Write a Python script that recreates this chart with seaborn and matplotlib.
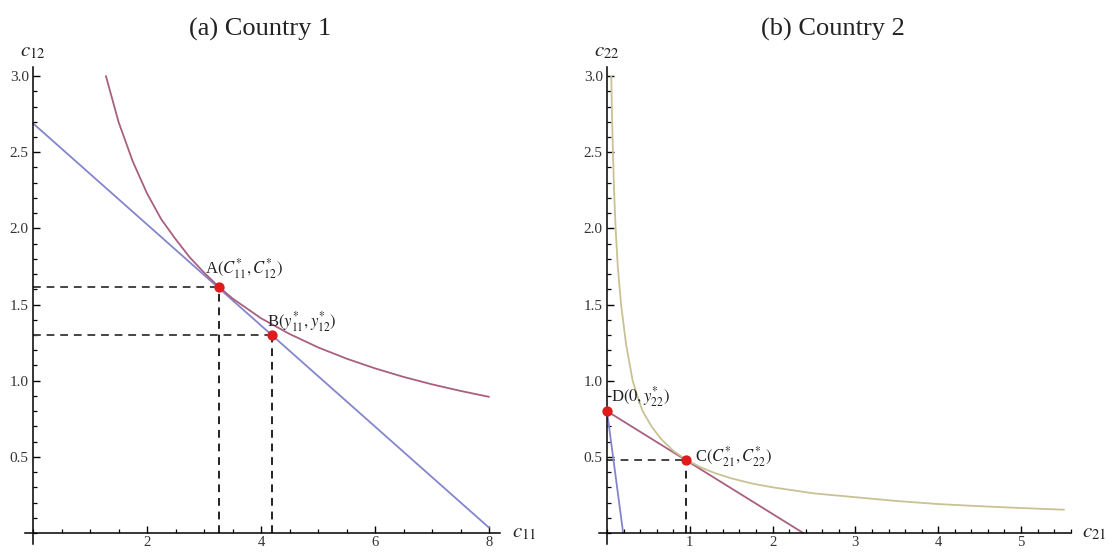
import numpy as np
import pandas as pd
import matplotlib
matplotlib.use("Agg")
import matplotlib.pyplot as plt
from matplotlib.ticker import MultipleLocator, FixedLocator
import seaborn as sns

# ---------------- data ----------------
# Panel (a) Country 1
p1_budget_x = [0.0, 8.0]
p1_budget_y = [2.69, 0.035]
p1_indiff_x = [1.28, 1.5, 1.75, 2.0, 2.25, 2.5, 2.75, 3.0, 3.25, 3.5, 4.0, 4.5,
               5.0, 5.5, 6.0, 6.5, 7.0, 7.5, 8.0]
p1_indiff_y = [3.0, 2.70, 2.44, 2.23, 2.06, 1.93, 1.81, 1.71, 1.62, 1.54, 1.41, 1.307,
               1.219, 1.145, 1.081, 1.025, 0.976, 0.933, 0.894]
p1_point_x = [3.26, 4.2]
p1_point_y = [1.615, 1.30]
p1_point_labels = [r"A$(C^{*}_{11},C^{*}_{12})$", r"B$(y^{*}_{11},y^{*}_{12})$"]

# Panel (b) Country 2
p2_budget_x = [0.0, 2.37]
p2_budget_y = [0.80, 0.0]
p2_steep_x = [0.0, 0.195]
p2_steep_y = [0.80, 0.0]
p2_indiff_x = [0.052, 0.06, 0.072, 0.085, 0.104, 0.13, 0.17, 0.23, 0.31, 0.37, 0.43,
               0.54, 0.65, 0.8, 0.96, 1.15, 1.3, 1.5, 1.75, 2.0, 2.5, 3.0, 3.5,
               4.0, 4.5, 5.0, 5.52]
p2_indiff_y = [3.0, 2.75, 2.5, 2.25, 2.0, 1.75, 1.5, 1.24, 1.0, 0.895, 0.80,
               0.698, 0.619, 0.54, 0.48, 0.427, 0.394, 0.359, 0.325, 0.30, 0.26, 0.235, 0.21,
               0.19, 0.176, 0.164, 0.153]
p2_point_x = [0.0, 0.96]
p2_point_y = [0.80, 0.48]
p2_point_labels = [r"D$(0,y^{*}_{22})$", r"C$(C^{*}_{21},C^{*}_{22})$"]

titles = ["(a) Country 1", "(b) Country 2"]
xlabels = [r"$c_{11}$", r"$c_{21}$"]
ylabels = [r"$c_{12}$", r"$c_{22}$"]
p1_xticks = [2, 4, 6, 8]
p2_xticks = [1, 2, 3, 4, 5]
yticks = [0.5, 1.0, 1.5, 2.0, 2.5, 3.0]

# ---------------- style ----------------
sns.set_theme(style="white")
plt.rcParams["font.family"] = ["Liberation Serif", "DejaVu Serif"]
plt.rcParams["mathtext.fontset"] = "stix"

BLUE = "#8585cc"
PURPLE = "#a8607e"
OLIVE = "#c9c294"
RED = "#e01b1b"
TXT = "#222222"

W, H = 1112, 554
fig = plt.figure(figsize=(W / 100, H / 100), dpi=100)

YLIM = (-0.07, 3.06)
Y0_PX, Y_PER = 533, 152.3


def px_axes(x_axis_px, x_per_unit, xlim):
    left = x_axis_px + xlim[0] * x_per_unit
    right = x_axis_px + xlim[1] * x_per_unit
    bottom = Y0_PX - YLIM[0] * Y_PER
    top = Y0_PX - YLIM[1] * Y_PER
    ax = fig.add_axes([left / W, (H - bottom) / H, (right - left) / W, (bottom - top) / H])
    ax.set_xlim(*xlim)
    return ax


ax1 = px_axes(33, 57.0, (-0.14, 8.2))
ax2 = px_axes(607, 82.8, (-0.1, 5.6))


def style_axes(ax, xticks, xminor, xl, yl):
    ax.set_ylim(*YLIM)
    for s in ["top", "right"]:
        ax.spines[s].set_visible(False)
    for s in ["left", "bottom"]:
        ax.spines[s].set_position(("data", 0))
        ax.spines[s].set_color("black")
        ax.spines[s].set_linewidth(1.1)
    ax.xaxis.set_major_locator(FixedLocator(xticks))
    ax.xaxis.set_minor_locator(MultipleLocator(xminor))
    ax.yaxis.set_major_locator(FixedLocator(yticks))
    ax.yaxis.set_minor_locator(MultipleLocator(0.1))
    ax.set_xticklabels([f"{t:g}" for t in xticks])
    ax.set_yticklabels([f"{t:.1f}" for t in yticks])
    ax.tick_params(which="major", direction="in", length=4.8, width=1.0, color="black",
                   labelsize=11, labelcolor="#333333")
    ax.tick_params(which="minor", direction="in", length=2.8, width=0.9, color="black")
    ax.tick_params(axis="x", which="major", pad=2.5, labelsize=10.5)
    ax.tick_params(axis="y", which="major", pad=3)
    ax.tick_params(axis="x", which="both", bottom=True, top=False)
    ax.tick_params(axis="y", which="both", left=True, right=False)
    ax.set_xlabel("")
    ax.set_ylabel("")
    ax.annotate(xl, xy=(1, 0), xycoords=("axes fraction", "data"), xytext=(8, 0),
                textcoords="offset points", ha="left", va="center", fontsize=15, color=TXT)
    ax.annotate(yl, xy=(0, 1), xycoords=("data", "axes fraction"), xytext=(0, 4),
                textcoords="offset points", ha="center", va="bottom", fontsize=15, color=TXT)
    ax.patch.set_alpha(0)


def draw_panel(ax, lines, px, py, labels, offsets, has_dash):
    for (lx, ly, col) in lines:
        df = pd.DataFrame({"x": lx, "y": ly})
        sns.lineplot(data=df, x="x", y="y", ax=ax, color=col, lw=1.3, sort=False,
                     estimator=None, zorder=2)
    for i, (x, y) in enumerate(zip(px, py)):
        if has_dash[i]:
            ax.plot([0, x], [y, y], ls=(0, (4, 3)), color="#444444", lw=1.4, zorder=1)
            ax.plot([x, x], [0, y], ls=(0, (4, 3)), color="#222222", lw=1.4, zorder=1)
    pdf = pd.DataFrame({"x": px, "y": py})
    sns.scatterplot(data=pdf, x="x", y="y", ax=ax, color=RED, s=55, edgecolor=RED,
                    linewidth=0, zorder=5, clip_on=False)
    for lab, x, y, off in zip(labels, px, py, offsets):
        ax.annotate(lab, (x, y), xytext=off, textcoords="offset points", ha="left",
                    va="baseline", fontsize=12, color=TXT)


draw_panel(ax1,
           [(p1_budget_x, p1_budget_y, BLUE), (p1_indiff_x, p1_indiff_y, PURPLE)],
           p1_point_x, p1_point_y, p1_point_labels, [(-10, 10), (-4, 6)], [True, True])
draw_panel(ax2,
           [(p2_steep_x, p2_steep_y, BLUE), (p2_budget_x, p2_budget_y, PURPLE),
            (p2_indiff_x, p2_indiff_y, OLIVE)],
           p2_point_x, p2_point_y, p2_point_labels, [(3, 7), (6, -1)], [False, True])

style_axes(ax1, p1_xticks, 0.5, xlabels[0], ylabels[0])
style_axes(ax2, p2_xticks, 0.2, xlabels[1], ylabels[1])

fig.text(260 / W, (H - 36) / H, titles[0], ha="center", va="baseline", fontsize=19, color=TXT)
fig.text(833 / W, (H - 36) / H, titles[1], ha="center", va="baseline", fontsize=19, color=TXT)

fig.savefig("out.png", dpi=100)
